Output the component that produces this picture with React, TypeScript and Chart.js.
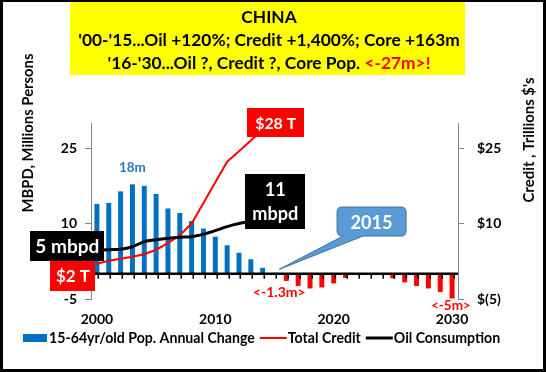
import React, { useEffect, useRef } from "react";
import { Chart, registerables } from "chart.js";

Chart.register(...registerables);

const years = [
  "2000", "2001", "2002", "2003", "2004", "2005", "2006", "2007", "2008", "2009",
  "2010", "2011", "2012", "2013", "2014", "2015", "2016", "2017", "2018", "2019",
  "2020", "2021", "2022", "2023", "2024", "2025", "2026", "2027", "2028", "2029", "2030",
];
const popChange = [
  13.9, 14.1, 16.4, 17.8, 17.5, 15.9, 13.0, 12.1, 10.5, 9.0,
  7.4, 5.7, 4.2, 2.9, 1.2, 0.2, -1.4, -2.4, -2.9, -2.7,
  -1.9, -0.8, 0, 0, 0, -0.9, -1.7, -2.4, -2.9, -3.6, -4.9,
];
const totalCredit = [
  2.0, 2.6, 3.0, 3.4, 3.9, 4.8, 6.1, 7.7, 10.0, 14.1, 18.2, 22.3, 24.4, 26.5, 28.6,
];
const oilConsumption = [
  4.7, 4.8, 4.9, 5.4, 6.4, 6.8, 7.1, 7.3, 7.4, 7.9, 8.6, 9.4, 10.0, 10.4, 10.7,
];
const leftTicks = [-5, 10, 25];
const rightTicks = [-5, 10, 25];
const titleLines = [
  "CHINA",
  "'00-'15...Oil +120%; Credit +1,400%; Core +163m",
  "'16-'30...Oil ?, Credit ?, Core Pop. ",
];
const titleRed = "<-27m>!";
const legendLabels = ["15-64yr/old Pop. Annual Change", "Total Credit", "Oil Consumption"];

const BLUE = "#0070C0";
const RED = "#FF0000";
const FONT = "Lato, 'Open Sans', sans-serif";
const AXIS_GRAY = "#868686";

function fit(ctx: CanvasRenderingContext2D, text: string, target: number) {
  ctx.font = `bold 100px ${FONT}`;
  const w = ctx.measureText(text).width;
  return (100 * target) / w;
}

function drawBox(ctx: CanvasRenderingContext2D, cx: number, cy: number, w: number, h: number, fill: string, lines: string[], refText: string, refW: number, lineH: number) {
  ctx.save();
  ctx.fillStyle = fill;
  ctx.fillRect(Math.round(cx - w / 2), Math.round(cy - h / 2), w, h);
  const size = fit(ctx, refText, refW);
  ctx.fillStyle = "#fff";
  ctx.font = `bold ${size}px ${FONT}`;
  ctx.textAlign = "center";
  ctx.textBaseline = "middle";
  const start = cy - ((lines.length - 1) * lineH) / 2;
  lines.forEach((l, i) => ctx.fillText(l, cx, start + i * lineH + 1));
  ctx.restore();
}

function fitText(ctx: CanvasRenderingContext2D, text: string, x: number, y: number, target: number, color: string) {
  const size = fit(ctx, text, target);
  ctx.font = `bold ${size}px ${FONT}`;
  ctx.fillStyle = color;
  ctx.fillText(text, x, y);
}

const overlay = {
  id: "overlay",
  afterDatasetsDraw(chart: any) {
    const ctx: CanvasRenderingContext2D = chart.ctx;
    const xs = chart.scales.x;
    const ys = chart.scales.y;
    const X = (i: number) => xs.getPixelForValue(i);
    const Y = (v: number) => ys.getPixelForValue(v);
    const area = chart.chartArea;

    // zero axis line + tick marks
    ctx.save();
    ctx.strokeStyle = "#000";
    ctx.lineWidth = 2.5;
    ctx.beginPath();
    ctx.moveTo(area.left, Y(0));
    ctx.lineTo(area.right, Y(0));
    ctx.stroke();
    ctx.lineWidth = 1.5;
    for (let i = 0; i < years.length; i++) {
      const x = Math.round(X(i) + 1.5) + 0.25;
      ctx.beginPath();
      ctx.moveTo(x, Y(0));
      ctx.lineTo(x, Y(0) + 5);
      ctx.stroke();
    }
    ctx.restore();

    // annotation boxes
    drawBox(ctx, X(15.1), Y(30.1), 57, 29, RED, ["$28 T"], "$28 T", 41, 20);
    drawBox(ctx, X(15.06), Y(14.4), 60, 55, "#000", ["11", "mbpd"], "mbpd", 46, 24);
    drawBox(ctx, X(-2.5), Y(5.55), 74, 30, "#000", ["5 mbpd"], "5 mbpd", 64, 20);
    drawBox(ctx, X(-2.03), Y(-0.4), 45, 30, RED, ["$2 T"], "$2 T", 34, 20);

    // callout 2015
    ctx.save();
    const cx = X(23.2), cy = Y(10.4), w = 69, h = 29, r = 5;
    const l = cx - w / 2, t = cy - h / 2;
    const tipX = X(15.4), tipY = Y(0.9);
    ctx.beginPath();
    ctx.moveTo(l + r, t);
    ctx.lineTo(l + w - r, t);
    ctx.quadraticCurveTo(l + w, t, l + w, t + r);
    ctx.lineTo(l + w, t + h - r);
    ctx.quadraticCurveTo(l + w, t + h, l + w - r, t + h);
    ctx.lineTo(l + 26, t + h);
    ctx.lineTo(tipX, tipY);
    ctx.lineTo(l + 6, t + h);
    ctx.lineTo(l + r, t + h);
    ctx.quadraticCurveTo(l, t + h, l, t + h - r);
    ctx.lineTo(l, t + r);
    ctx.quadraticCurveTo(l, t, l + r, t);
    ctx.closePath();
    ctx.fillStyle = "#5B9BD5";
    ctx.fill();
    ctx.strokeStyle = "#41719C";
    ctx.lineWidth = 1;
    ctx.stroke();
    ctx.textAlign = "center";
    ctx.textBaseline = "middle";
    fitText(ctx, "2015", cx, cy + 2, 42, "#fff");
    ctx.restore();

    // text labels
    ctx.save();
    ctx.textAlign = "center";
    ctx.textBaseline = "middle";
    fitText(ctx, "18m", X(3), Y(21.1), 27, "#2E75B6");
    fitText(ctx, "<-1.3m>", X(15.4), Y(-3.8), 53, RED);
    fitText(ctx, "<-5m>", X(29.9), Y(-6.3), 40, RED);
    ctx.restore();
  },
  afterDraw(chart: any) {
    const ctx: CanvasRenderingContext2D = chart.ctx;
    const W = chart.width, H = chart.height;
    ctx.save();
    // title box
    ctx.fillStyle = "#FFFF00";
    ctx.fillRect(70, 2, 395, 73);
    const ts = fit(ctx, titleLines[1], 382);
    ctx.fillStyle = "#000";
    ctx.font = `bold ${ts}px ${FONT}`;
    ctx.textBaseline = "middle";
    ctx.textAlign = "center";
    const tcx = 269;
    ctx.fillText(titleLines[0], tcx, 17);
    ctx.fillText(titleLines[1], tcx, 40);
    const w1 = ctx.measureText(titleLines[2]).width;
    const w2 = ctx.measureText(titleRed).width;
    ctx.textAlign = "left";
    const sx = tcx - (w1 + w2) / 2;
    ctx.fillText(titleLines[2], sx, 63);
    ctx.fillStyle = RED;
    ctx.fillText(titleRed, sx + w1, 63);

    // axis titles
    ctx.textAlign = "center";
    ctx.save();
    ctx.translate(28, 133);
    ctx.rotate(-Math.PI / 2);
    fitText(ctx, "MBPD, Millions Persons", 0, 0, 159, "#000");
    ctx.restore();
    ctx.save();
    ctx.translate(529, 140);
    ctx.rotate(-Math.PI / 2);
    fitText(ctx, "Credit , Trillions $'s", 0, 0, 125, "#000");
    ctx.restore();

    // legend
    const ls = fit(ctx, legendLabels[0], 206);
    ctx.font = `bold ${ls}px ${FONT}`;
    ctx.textAlign = "left";
    ctx.textBaseline = "middle";
    const ly = 338;
    let x = 23;
    ctx.fillStyle = BLUE;
    ctx.fillRect(x, ly - 4, 24, 8);
    x += 26;
    ctx.fillStyle = "#000";
    ctx.fillText(legendLabels[0], x, ly);
    x += ctx.measureText(legendLabels[0]).width + 5;
    ctx.strokeStyle = RED;
    ctx.lineWidth = 2;
    ctx.beginPath(); ctx.moveTo(x, ly); ctx.lineTo(x + 27, ly); ctx.stroke();
    x += 28;
    ctx.fillText(legendLabels[1], x, ly);
    x += ctx.measureText(legendLabels[1]).width + 5;
    ctx.strokeStyle = "#000";
    ctx.lineWidth = 3;
    ctx.beginPath(); ctx.moveTo(x, ly); ctx.lineTo(x + 27, ly); ctx.stroke();
    x += 28;
    ctx.fillText(legendLabels[2], x, ly);

    // outer border
    ctx.fillStyle = "#000";
    ctx.fillRect(0, 0, W, 2);
    ctx.fillRect(0, 0, 3, H);
    ctx.fillRect(W - 3, 0, 3, H);
    ctx.fillRect(0, H - 3, W, 3);
    ctx.restore();
  },
};

export default function App() {
  const ref = useRef<HTMLCanvasElement | null>(null);
  useEffect(() => {
    if (!ref.current) return;
    const tickFont = { family: FONT, size: 14, weight: "bold" as const };
    const chart = new Chart(ref.current, {
      type: "bar",
      data: {
        labels: years,
        datasets: [
          {
            type: "line",
            label: legendLabels[2],
            data: oilConsumption,
            borderColor: "#000",
            borderWidth: 3,
            pointRadius: 0,
            tension: 0.3,
            yAxisID: "y",
            order: 1,
          } as any,
          {
            type: "line",
            label: legendLabels[1],
            data: totalCredit,
            borderColor: RED,
            borderWidth: 2,
            pointRadius: 0,
            tension: 0,
            yAxisID: "y2",
            order: 2,
          } as any,
          {
            type: "bar",
            label: legendLabels[0],
            data: popChange,
            backgroundColor: popChange.map((v) => (v >= 0 ? BLUE : RED)),
            barPercentage: 0.42,
            categoryPercentage: 1,
            yAxisID: "y",
            order: 3,
          } as any,
        ],
      },
      options: {
        responsive: false,
        animation: false,
        layout: { padding: { top: 123, left: 0, right: 0, bottom: 0 } },
        plugins: { legend: { display: false }, tooltip: { enabled: false } },
        scales: {
          x: {
            grid: { display: false, drawTicks: false },
            border: { display: false },
            ticks: {
              autoSkip: false,
              maxRotation: 0,
              color: "#000",
              font: tickFont,
              padding: 12,
              callback: (_v: any, i: number) => (Number(years[i]) % 10 === 0 ? years[i] : ""),
            },
            afterFit: (s: any) => { s.height = 73; },
          },
          y: {
            position: "left",
            min: -5,
            max: 30,
            afterBuildTicks: (s: any) => { s.ticks = leftTicks.map((v) => ({ value: v })); },
            grid: { drawOnChartArea: false, tickLength: 6, color: AXIS_GRAY },
            border: { color: AXIS_GRAY },
            ticks: { color: "#000", font: tickFont, padding: 8, callback: (v: any) => String(v) },
            afterFit: (s: any) => { s.width = 91; },
          },
          y2: {
            position: "right",
            min: -5,
            max: 30,
            afterBuildTicks: (s: any) => { s.ticks = rightTicks.map((v) => ({ value: v })); },
            grid: { drawOnChartArea: false, tickLength: 6, color: AXIS_GRAY },
            border: { color: AXIS_GRAY },
            ticks: {
              color: "#000",
              font: tickFont,
              padding: 13,
              callback: (v: any) => (Number(v) < 0 ? `$(${-Number(v)})` : `$${v}`),
            },
            afterFit: (s: any) => { s.width = 88; },
          },
        },
      },
      plugins: [overlay],
    });
    return () => chart.destroy();
  }, []);
  return (
    <div style={{ position: "absolute", left: 0, top: 0, width: 546, height: 372, background: "#fff" }}>
      <canvas ref={ref} width={546} height={372} />
    </div>
  );
}
